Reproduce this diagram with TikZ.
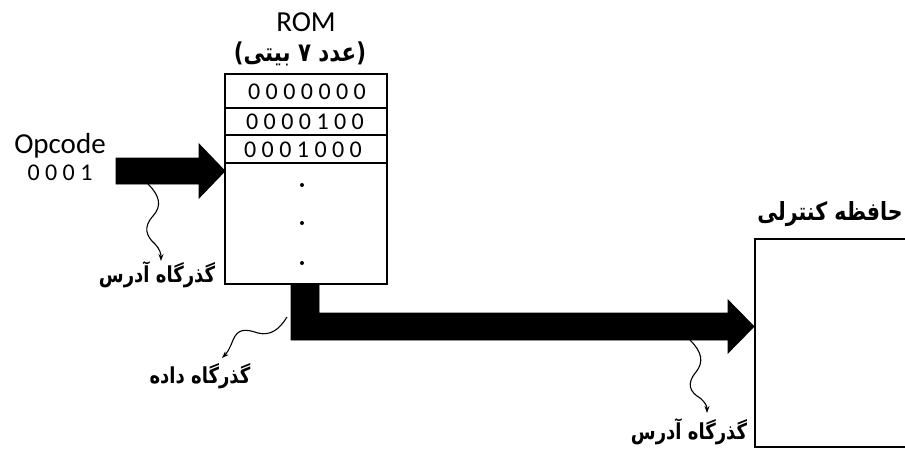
\documentclass[tikz,border=0pt]{standalone}
\usepackage{fontspec}
\setmainfont{Carlito}
\newfontfamily\fa[Script=Arabic]{DejaVu Sans}
\TeXXeTstate=1
\usetikzlibrary{arrows.meta}
\newcommand{\fatext}[2]{\scalebox{0.82}[1]{\fa\bfseries\fontsize{#1}{#1}\selectfont #2}}
\begin{document}
\begin{tikzpicture}[x=1pt,y=-1pt,
  box/.style={draw,line width=1.3pt},
  bus/.style={fill=black,draw=black,line width=0.8pt},
  wavy/.style={-{Stealth[length=7pt,width=5pt]},line width=1.1pt},
  lat/.style={inner sep=0pt,font=\fontsize{29}{30}\selectfont},
  bits/.style={inner sep=0pt,font=\fontsize{24}{26}\selectfont},
  falabel/.style={inner sep=0pt}]
\useasboundingbox (0,0) rectangle (905,448);
\clip (0,0) rectangle (905,448);
% ROM
\node[lat] (romt) at (306,22) {ROM};
\node[falabel] (romsub) at (300,54) {\fatext{26}{\beginR(عدد ۷ بیتی)\endR}};
\draw[box] (225,74) rectangle (387,284);
\draw[box] (225,108) -- (387,108);
\draw[box] (225,135) -- (387,135);
\draw[box] (225,163) -- (387,163);
\node[bits] (r1) at (307,92) {0 0 0 0 0 0 0};
\node[bits] (r2) at (305,122) {0 0 0 0 1 0 0};
\node[bits] (r3) at (303,149.5) {0 0 0 1 0 0 0};
\foreach \yy/\nm in {185/d1,223/d2,263/d3}
  \fill (302,\yy) circle (2pt) coordinate (\nm);
% Opcode
\node[lat] (op) at (60,146) {Opcode};
\node[bits] (opv) at (60,173) {0 0 0 1};
% input bus
\draw[bus] (116,158) -- (199,158) -- (199,144) -- (225,171) -- (199,198) -- (199,184) -- (116,184) -- cycle;
% output bus
\draw[bus] (291,284) -- (319,284) -- (319,313) -- (728,313) -- (728,300) -- (754,326.5) -- (728,353) -- (728,340) -- (291,340) -- cycle;
% control memory
\node[falabel] (cmt) at (830,214) {\fatext{25}{\beginR حافظه کنترلی\endR}};
\draw[box] (755,239) rectangle (915,447);
% labels
\node[falabel] (l1) at (157,275) {\fatext{22}{\beginR گذرگاه آدرس\endR}};
\node[falabel] (l2) at (200,376) {\fatext{22}{\beginR گذرگاه داده\endR}};
\node[falabel] (l3) at (689,432) {\fatext{22}{\beginR گذرگاه آدرس\endR}};
% wavy connectors
\coordinate (s1) at (148,184);
\coordinate (e1) at (161,261);
\draw[wavy] (s1) .. controls (160,196) and (162,206) .. (153,216)
  .. controls (143,227) and (146,236) .. (155,244)
  .. controls (160,249) and (161,254) .. (e1);
\coordinate (s2) at (287,317);
\coordinate (e2) at (222,358);
\draw[wavy] (s2) .. controls (279,330) and (270,336) .. (258,333)
  .. controls (246,329) and (238,328) .. (233,340)
  .. controls (230,348) and (227,353) .. (e2);
\coordinate (s3) at (690,340);
\coordinate (e3) at (707,413);
\draw[wavy] (s3) .. controls (702,352) and (704,362) .. (696,372)
  .. controls (686,384) and (690,392) .. (700,398)
  .. controls (705,402) and (707,406) .. (e3);
\end{tikzpicture}
\end{document}
